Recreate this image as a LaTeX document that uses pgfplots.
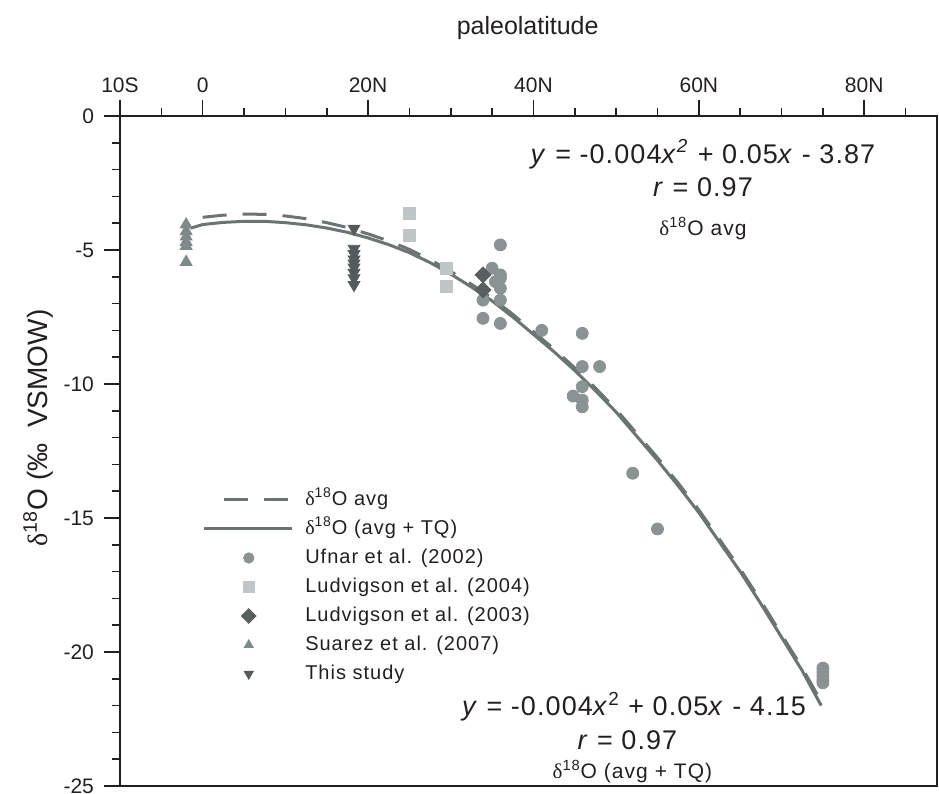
\documentclass[border=0pt]{standalone}
\usepackage{fontspec}
\setmainfont{Liberation Sans}
\newfontfamily\grk{Liberation Serif}
\newfontfamily\eqf[LetterSpace=4]{Liberation Sans}
\newfontfamily\lsf[LetterSpace=5]{Liberation Sans}
\usepackage{pgfplots}
\pgfplotsset{compat=1.18}
\definecolor{txt}{HTML}{231F20}
\definecolor{lin}{HTML}{6C7373}
\definecolor{cUf}{HTML}{8A9292}
\definecolor{cL4}{HTML}{C0C5C5}
\definecolor{cL3}{HTML}{5A6060}
\definecolor{cSu}{HTML}{808989}
\definecolor{cTs}{HTML}{555B5B}
\newcommand{\dO}{{\grk δ}\textsuperscript{18}O}
\pgfplotsset{
  mkleg/.style={legend image code/.code={%
    \path[draw=none,fill=none] (0pt,0pt) (44pt,0pt);
    \draw[##1,mark size=2.6pt] plot coordinates {(22.5pt,0pt)};}},
  dashleg/.style={legend image code/.code={%
    \path[draw=none,fill=none] (0pt,0pt) (44pt,0pt);
    \draw[##1] (10pt,0pt) -- (42.5pt,0pt);}},
  solleg/.style={legend image code/.code={%
    \draw[##1] (0pt,0pt) -- (44pt,0pt);}},
}
\begin{document}
\begin{tikzpicture}
\begin{axis}[
  at={(0,0)}, anchor=south west,
  scale only axis, width=408.5pt, height=335pt,
  xmin=-10, xmax=88.8, ymin=-25, ymax=0,
  axis line style={line width=1pt, color=txt},
  xtick={-10,0,20,40,60,80}, xticklabels={10S,0,20N,40N,60N,80N},
  minor xtick={-5,5,10,15,25,30,35,45,50,55,65,70,75,85},
  ytick={-25,-20,-15,-10,-5,0}, yticklabels={-25,-20,-15,-10,-5,0},
  minor ytick={-24,-23,-22,-21,-19,-18,-17,-16,-14,-13,-12,-11,-9,-8,-7,-6,-4,-3,-2,-1},
  xtick pos=right, xticklabel pos=right, ytick pos=left,
  tick align=outside,
  major tick length=8pt, minor tick length=4pt,
  tick style={line width=0.8pt, color=txt},
  tick label style={font=\fontsize{10.5}{12}\selectfont, text=txt},
  yticklabel style={xshift=-1.5pt},
  clip=false,
  legend cell align=left,
  legend style={at={(axis cs:-0.1,-13.97)}, anchor=north west, draw=none, fill=none,
    font=\lsf\fontsize{10}{12}\selectfont, text=txt, inner sep=0pt,
    row sep=5.3pt, column sep=6pt,
    nodes={inner sep=0pt, text height=7.2pt, text depth=2pt}},
]
% fitted curves
\addplot[lin, line width=1.5pt, dash pattern=on 12pt off 8pt, dashleg]
  coordinates {(0,-3.78) (2.5,-3.7) (5,-3.66) (7.5,-3.67) (10,-3.73) (12.5,-3.83)
  (15,-3.98) (17.5,-4.16) (20,-4.4) (22.5,-4.66) (25,-4.98) (27.5,-5.36) (30,-5.8)
  (32.5,-6.28) (35,-6.8) (37.5,-7.4) (40,-8.05) (42.5,-8.7) (45,-9.4) (47.5,-10.15)
  (50,-10.95) (52.5,-11.85) (55,-12.75) (57.5,-13.7) (60,-14.7) (62.5,-15.8)
  (65,-16.9) (67.5,-18.1) (70,-19.35) (72.5,-20.6) (74.8,-21.85)};
\addlegendentry{\dO{} avg}
\addplot[lin, line width=1.5pt, solleg]
  coordinates {(-1.5,-4.19) (0,-4.05) (2.5,-3.97) (5,-3.93) (7.5,-3.93) (10,-3.98)
  (12.5,-4.06) (15,-4.18) (17.5,-4.34) (20,-4.55) (22.5,-4.8) (25,-5.1) (27.5,-5.47)
  (30,-5.9) (32.5,-6.38) (35,-6.9) (37.5,-7.5) (40,-8.15) (42.5,-8.8) (45,-9.5)
  (47.5,-10.25) (50,-11.05) (52.5,-11.95) (55,-12.85) (57.5,-13.8) (60,-14.8)
  (62.5,-15.9) (65,-17.0) (67.5,-18.2) (70,-19.45) (72.5,-20.7) (74.8,-22.0)};
\addlegendentry{\dO{} (avg + TQ)}
% data
\addplot[only marks, mark=*, mark size=3pt, color=cUf, mkleg]
  coordinates {(36,-4.81) (35,-5.68) (36,-5.93) (36,-6.05) (35.4,-6.18) (36,-6.43)
  (33.9,-6.87) (36,-6.87) (33.9,-7.55) (36,-7.74) (41,-8.0) (45.9,-8.11)
  (45.9,-9.35) (48,-9.35) (45.9,-10.1) (44.8,-10.45) (45.9,-10.6) (45.9,-10.85)
  (52,-13.33) (55,-15.41) (75,-20.6) (75,-20.75) (75,-20.9) (75,-21.05) (75,-21.15)};
\addlegendentry{Ufnar et al. (2002)}
\addplot[only marks, mark=square*, mark size=3pt, color=cL4, mkleg]
  coordinates {(25,-3.63) (25,-4.44) (29.5,-5.68) (29.5,-6.37)};
\addlegendentry{Ludvigson et al. (2004)}
\addplot[only marks, mark=square*, mark size=2.8pt, mark options={rotate=45}, color=cL3, mkleg]
  coordinates {(33.9,-5.93) (33.9,-6.49)};
\addlegendentry{Ludvigson et al. (2003)}
\addplot[only marks, mark=triangle*, mark size=3.4pt, color=cSu, mkleg]
  coordinates {(-2,-4.05) (-2,-4.3) (-2,-4.5) (-2,-4.7) (-2,-4.85) (-2,-5.45)};
\addlegendentry{Suarez et al. (2007)}
\addplot[only marks, mark=triangle*, mark size=3.4pt, mark options={rotate=180}, color=cTs, mkleg]
  coordinates {(18.3,-4.2) (18.3,-4.95) (18.3,-5.15) (18.3,-5.35) (18.3,-5.5)
  (18.3,-5.65) (18.3,-5.85) (18.3,-6.05) (18.3,-6.3)};
\addlegendentry{This study}
% annotations
\node[font=\eqf\fontsize{13.5}{16}\selectfont, text=txt] at (axis cs:60.5,-1.42)
  {\textit{y} = -0.004\textit{x}\textsuperscript{\textit{2}} + 0.05\textit{x} - 3.87};
\node[font=\eqf\fontsize{13.5}{16}\selectfont, text=txt] at (axis cs:60.5,-2.64) {\textit{r} = 0.97};
\node[font=\lsf\fontsize{10.5}{12}\selectfont, text=txt] at (axis cs:60.5,-4.19) {\dO{} avg};
\node[font=\eqf\fontsize{13.5}{16}\selectfont, text=txt] at (axis cs:52.15,-22.04)
  {\textit{y} = -0.004\textit{x}\textsuperscript{2} + 0.05\textit{x} - 4.15};
\node[font=\eqf\fontsize{13.5}{16}\selectfont, text=txt] at (axis cs:51.36,-23.28) {\textit{r} = 0.97};
\node[font=\lsf\fontsize{10.5}{12}\selectfont, text=txt] at (axis cs:51.97,-24.47) {\dO{} (avg + TQ)};
\node[font=\fontsize{12.5}{14}\selectfont, text=txt] at (axis cs:39.3,3.28) {paleolatitude};
\node[rotate=90, font=\fontsize{14}{16}\selectfont, text=txt] at (axis cs:-19.9,-11.64)
  {\dO{} (‰\ \ VSMOW)};
\end{axis}
\pgfresetboundingbox
\path[use as bounding box] (-60pt,-4pt) rectangle (409.5pt,393pt);
\end{tikzpicture}
\end{document}
